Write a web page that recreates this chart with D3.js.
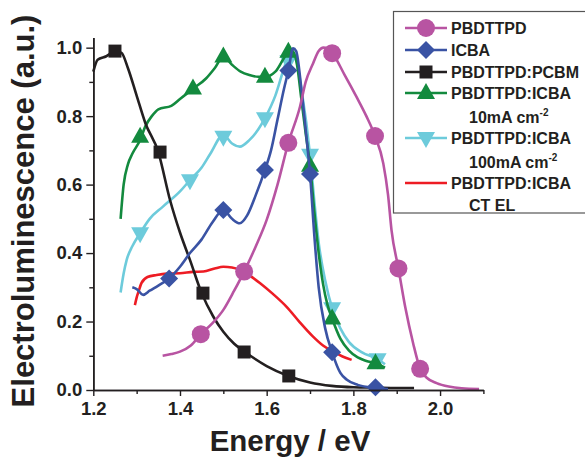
<!DOCTYPE html>
<html>
<head>
<meta charset="utf-8">
<script src="https://cdn.jsdelivr.net/npm/d3@7"></script>
<style>
  body { margin:0; background:#fff; }
  text { font-family:"Liberation Sans", Arial, sans-serif; font-weight:bold; fill:#231f20; }
</style>
</head>
<body>
<div id="chart"></div>
<script>
// series names
var names = ["PBDTTPD","ICBA","PBDTTPD:PCBM","PBDTTPD:ICBA 10mA","PBDTTPD:ICBA 100mA","PBDTTPD:ICBA CT EL"];

// PBDTTPD (magenta)
var pbd_x = [1.36,1.38,1.4,1.425,1.448,1.475,1.5,1.525,1.548,1.575,1.6,1.625,1.65,1.677,1.69,1.707,1.72,1.731,1.751,1.78,1.807,1.83,1.85,1.869,1.88,1.888,1.904,1.92,1.938,1.954,1.97,1.992,2.02,2.05,2.09];
var pbd_y = [0.1,0.105,0.112,0.13,0.163,0.195,0.234,0.29,0.346,0.42,0.497,0.6,0.722,0.828,0.9,0.954,0.99,1.0,0.984,0.92,0.857,0.8,0.742,0.662,0.57,0.467,0.355,0.24,0.136,0.062,0.035,0.02,0.01,0.005,0.003];
var pbd_mx = [1.448,1.548,1.65,1.751,1.85,1.904,1.954];
var pbd_my = [0.163,0.346,0.722,0.984,0.742,0.355,0.062];

// ICBA (blue)
var icba_x = [1.29,1.3,1.315,1.33,1.35,1.375,1.4,1.423,1.45,1.475,1.5,1.52,1.538,1.555,1.575,1.596,1.61,1.625,1.64,1.65,1.661,1.668,1.68,1.69,1.7,1.71,1.72,1.735,1.751,1.77,1.785,1.81,1.851,1.88];
var icba_y = [0.3,0.295,0.278,0.29,0.305,0.326,0.36,0.4,0.44,0.49,0.526,0.5,0.487,0.51,0.57,0.643,0.7,0.79,0.88,0.933,0.998,0.99,0.88,0.76,0.631,0.45,0.3,0.18,0.11,0.05,0.03,0.015,0.006,0.003];
var icba_mx = [1.375,1.5,1.596,1.65,1.7,1.751,1.851];
var icba_my = [0.326,0.526,0.643,0.933,0.631,0.11,0.008];

// PBDTTPD:PCBM (black)
var pcbm_x = [1.2,1.21,1.23,1.25,1.265,1.28,1.3,1.32,1.35,1.377,1.4,1.423,1.45,1.477,1.5,1.525,1.55,1.6,1.65,1.7,1.75,1.8,1.85,1.9,1.94];
var pcbm_y = [0.93,0.965,0.975,0.99,0.985,0.94,0.86,0.78,0.695,0.555,0.46,0.38,0.283,0.214,0.17,0.135,0.111,0.07,0.041,0.022,0.012,0.008,0.007,0.006,0.006];
var pcbm_mx = [1.25,1.354,1.453,1.548,1.651];
var pcbm_my = [0.99,0.695,0.283,0.111,0.041];

// PBDTTPD:ICBA 10mA (green)
var i10_x = [1.263,1.27,1.28,1.29,1.308,1.32,1.335,1.35,1.38,1.4,1.43,1.46,1.48,1.5,1.52,1.54,1.56,1.58,1.596,1.62,1.64,1.65,1.66,1.67,1.68,1.69,1.7,1.71,1.72,1.73,1.74,1.751,1.77,1.79,1.81,1.83,1.851,1.873];
var i10_y = [0.5,0.6,0.66,0.69,0.73,0.77,0.8,0.82,0.83,0.85,0.88,0.91,0.94,0.974,0.95,0.93,0.92,0.915,0.915,0.93,0.97,0.988,0.99,0.95,0.85,0.75,0.657,0.52,0.4,0.31,0.25,0.209,0.15,0.115,0.095,0.085,0.078,0.065];
var i10_mx = [1.308,1.43,1.5,1.596,1.65,1.7,1.751,1.851];
var i10_my = [0.74,0.881,0.974,0.915,0.988,0.655,0.209,0.078];

// PBDTTPD:ICBA 100mA (cyan)
var i100_x = [1.263,1.27,1.277,1.29,1.308,1.33,1.36,1.4,1.423,1.45,1.47,1.5,1.52,1.538,1.56,1.58,1.596,1.62,1.64,1.655,1.665,1.68,1.7,1.71,1.72,1.735,1.751,1.77,1.79,1.82,1.856,1.873];
var i100_y = [0.285,0.34,0.38,0.42,0.458,0.5,0.535,0.58,0.613,0.65,0.69,0.745,0.72,0.711,0.73,0.76,0.794,0.86,0.94,0.99,0.98,0.88,0.687,0.55,0.43,0.32,0.239,0.18,0.14,0.11,0.09,0.075];
var i100_mx = [1.308,1.423,1.5,1.596,1.65,1.7,1.751,1.856];
var i100_my = [0.458,0.613,0.74,0.794,0.96,0.687,0.239,0.09];

// PBDTTPD:ICBA CT EL (red)
var ct_x = [1.296,1.3,1.305,1.311,1.325,1.346,1.37,1.4,1.43,1.454,1.48,1.5,1.52,1.538,1.56,1.585,1.615,1.646,1.675,1.707,1.73,1.754,1.775,1.796];
var ct_y = [0.248,0.27,0.29,0.312,0.33,0.336,0.34,0.341,0.345,0.346,0.355,0.36,0.358,0.351,0.335,0.312,0.28,0.243,0.2,0.156,0.13,0.112,0.098,0.088];

var xTicks = [1.2,1.4,1.6,1.8,2.0];
var xMinor = [1.3,1.5,1.7,1.9,2.1];
var yTicks = [0.0,0.2,0.4,0.6,0.8,1.0];
var yMinor = [0.1,0.3,0.5,0.7,0.9];

var W = 585, H = 457;
var svg = d3.select("#chart").append("svg").attr("width",W).attr("height",H);

var x = d3.scaleLinear().domain([1.2,2.1]).range([93.3,483.4]);
var y = d3.scaleLinear().domain([0,1.03]).range([390,37.4]);

function zip(a,b){ return a.map(function(v,i){ return [v,b[i]]; }); }

var line = d3.line()
  .x(function(d){ return x(d[0]); })
  .y(function(d){ return y(d[1]); })
  .curve(d3.curveMonotoneX);

var shapes = {
  circle: "M9,0A9,9 0 1,1 -9,0A9,9 0 1,1 9,0Z",
  diamond: "M0,-9L9,0L0,9L-9,0Z",
  square: "M-6.5,-6.5H6.5V6.5H-6.5Z",
  up: "M0,-10L9,6L-9,6Z",
  down: "M0,10L9,-6L-9,-6Z"
};

// drawing order: last legend entry at the bottom
var series = [
  {xs:ct_x, ys:ct_y, mx:[], my:[], color:"#ed1c24", shape:null},
  {xs:i100_x, ys:i100_y, mx:i100_mx, my:i100_my, color:"#6dcbdb", shape:"down"},
  {xs:i10_x, ys:i10_y, mx:i10_mx, my:i10_my, color:"#138a3e", shape:"up"},
  {xs:pcbm_x, ys:pcbm_y, mx:pcbm_mx, my:pcbm_my, color:"#231f20", shape:"square"},
  {xs:icba_x, ys:icba_y, mx:icba_mx, my:icba_my, color:"#3a53a4", shape:"diamond"},
  {xs:pbd_x, ys:pbd_y, mx:pbd_mx, my:pbd_my, color:"#b854a2", shape:"circle"}
];

series.forEach(function(s){
  var g = svg.append("g");
  g.append("path")
    .attr("d", line(zip(s.xs,s.ys)))
    .style("fill","none")
    .style("stroke",s.color)
    .style("stroke-width","2.6px");
  if (s.shape) {
    g.selectAll("path.m").data(zip(s.mx,s.my)).enter().append("path")
      .attr("class","m")
      .attr("d",shapes[s.shape])
      .attr("transform",function(d){ return "translate(" + x(d[0]) + "," + y(d[1]) + ")"; })
      .style("fill",s.color);
  }
});

// axes
svg.append("g").attr("transform","translate(0,390)")
  .call(d3.axisBottom(x).tickValues(xTicks).tickFormat(d3.format(".1f")).tickSize(6).tickSizeOuter(0).tickPadding(6));
svg.append("g").attr("transform","translate(0,390)")
  .call(d3.axisBottom(x).tickValues(xMinor).tickFormat("").tickSize(4).tickSizeOuter(0));
svg.append("g").attr("transform","translate(93.3,0)")
  .call(d3.axisLeft(y).tickValues(yTicks).tickFormat(d3.format(".1f")).tickSize(7).tickSizeOuter(0).tickPadding(4));
svg.append("g").attr("transform","translate(93.3,0)")
  .call(d3.axisLeft(y).tickValues(yMinor).tickFormat("").tickSize(4).tickSizeOuter(0));

svg.selectAll(".domain").style("stroke","#231f20").style("stroke-width","1.6px");
svg.selectAll(".tick line").style("stroke","#231f20").style("stroke-width","1.4px");
svg.selectAll(".tick text").style("font-size","18.5px").style("font-family","Liberation Sans, Arial, sans-serif").style("font-weight","bold").style("fill","#231f20");

// axis titles
svg.append("text")
  .attr("x",290).attr("y",451)
  .attr("text-anchor","middle")
  .style("font-size","29.5px")
  .text("Energy / eV");
svg.append("text")
  .attr("transform","translate(34,211) rotate(-90)")
  .attr("text-anchor","middle")
  .style("font-size","31px")
  .text("Electroluminescence (a.u.)");

// legend
var lg = svg.append("g");
lg.append("rect").attr("x",393.5).attr("y",11.5).attr("width",200).attr("height",201.5)
  .style("fill","#fff").style("stroke","#555").style("stroke-width","1.2px");

var legendRows = [
  {y:28, color:"#b854a2", shape:"circle", text:names[0]},
  {y:50, color:"#3a53a4", shape:"diamond", text:names[1]},
  {y:72, color:"#231f20", shape:"square", text:names[2]},
  {y:93, color:"#138a3e", shape:"up", text:"PBDTTPD:ICBA", sub:"10mA cm"},
  {y:138, color:"#6dcbdb", shape:"down", text:"PBDTTPD:ICBA", sub:"100mA cm"},
  {y:183, color:"#ed1c24", shape:null, text:"PBDTTPD:ICBA", sub2:"CT EL"}
];

legendRows.forEach(function(r){
  lg.append("line").attr("x1",405).attr("x2",447).attr("y1",r.y).attr("y2",r.y)
    .style("stroke",r.color).style("stroke-width","2.6px");
  if (r.shape) {
    lg.append("path").attr("d",shapes[r.shape])
      .attr("transform","translate(426," + r.y + ")")
      .style("fill",r.color);
  }
  lg.append("text").attr("x",451).attr("y",r.y + 6).style("font-size","16px").text(r.text);
  if (r.sub) {
    var t = lg.append("text").attr("x",469).attr("y",r.y + 30).style("font-size","16px");
    t.append("tspan").text(r.sub);
    t.append("tspan").attr("dy",-7).style("font-size","10px").text("-2");
  }
  if (r.sub2) {
    lg.append("text").attr("x",469).attr("y",r.y + 28).style("font-size","16px").text(r.sub2);
  }
});
</script>
</body>
</html>
